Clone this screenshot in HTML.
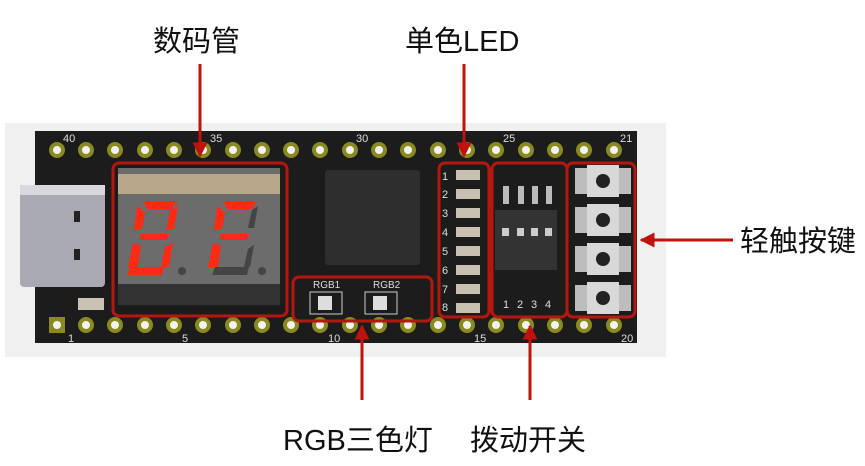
<!DOCTYPE html>
<html><head><meta charset="utf-8"><style>
body{margin:0;width:865px;height:466px;background:#fff;overflow:hidden}
svg{display:block}
.l{font-family:"Liberation Sans","Noto Sans CJK SC",sans-serif;font-size:29px;fill:#111}
.n{font-family:"Liberation Sans",sans-serif;font-size:11px;fill:#ddd}
</style></head><body>
<svg width="865" height="466" viewBox="0 0 865 466">
<defs>
<marker id="a" viewBox="0 0 10 10" refX="9" refY="5" markerWidth="5" markerHeight="5" orient="auto"><path d="M0,0L10,5L0,10z" fill="#c0120c"/></marker>
</defs>
<rect x="5" y="123" width="661" height="234" fill="#f0f0f0"/>
<rect x="35" y="131" width="602" height="212" fill="#1c1c1c"/>
<g fill="#f2f2f2" stroke="#8a8a20" stroke-width="4">
<circle cx="57" cy="150" r="6"/><circle cx="86" cy="150" r="6"/><circle cx="115" cy="150" r="6"/><circle cx="145" cy="150" r="6"/><circle cx="174" cy="150" r="6"/><circle cx="203" cy="150" r="6"/><circle cx="233" cy="150" r="6"/><circle cx="262" cy="150" r="6"/><circle cx="291" cy="150" r="6"/><circle cx="320" cy="150" r="6"/><circle cx="350" cy="150" r="6"/><circle cx="379" cy="150" r="6"/><circle cx="408" cy="150" r="6"/><circle cx="438" cy="150" r="6"/><circle cx="467" cy="150" r="6"/><circle cx="496" cy="150" r="6"/><circle cx="526" cy="150" r="6"/><circle cx="555" cy="150" r="6"/><circle cx="584" cy="150" r="6"/><circle cx="614" cy="150" r="6"/>
<circle cx="86" cy="325" r="6"/><circle cx="115" cy="325" r="6"/><circle cx="145" cy="325" r="6"/><circle cx="174" cy="325" r="6"/><circle cx="203" cy="325" r="6"/><circle cx="233" cy="325" r="6"/><circle cx="262" cy="325" r="6"/><circle cx="291" cy="325" r="6"/><circle cx="320" cy="325" r="6"/><circle cx="350" cy="325" r="6"/><circle cx="379" cy="325" r="6"/><circle cx="408" cy="325" r="6"/><circle cx="438" cy="325" r="6"/><circle cx="467" cy="325" r="6"/><circle cx="496" cy="325" r="6"/><circle cx="526" cy="325" r="6"/><circle cx="555" cy="325" r="6"/><circle cx="584" cy="325" r="6"/><circle cx="614" cy="325" r="6"/>
</g>
<rect x="49" y="317" width="16" height="16" fill="#8a8a20"/><circle cx="57" cy="325" r="4" fill="#f2f2f2"/>
<g class="n"><text x="63" y="142">40</text><text x="210" y="142">35</text><text x="356" y="142">30</text><text x="503" y="142">25</text><text x="620" y="142">21</text>
<text x="68" y="342">1</text><text x="182" y="342">5</text><text x="328" y="342">10</text><text x="474" y="342">15</text><text x="621" y="342">20</text></g>
<rect x="20" y="185" width="85" height="102" rx="4" fill="#a8a9b2"/>
<rect x="20" y="185" width="85" height="10" fill="#d8d9de"/>
<rect x="74" y="211" width="6" height="11" fill="#222"/><rect x="74" y="249" width="6" height="11" fill="#222"/>
<rect x="78" y="298" width="26" height="12" fill="#c9c2b4"/>
<rect x="118" y="168" width="162" height="137" fill="#6c6c6c"/>
<rect x="118" y="174" width="162" height="20" fill="#b8a889"/>
<rect x="118" y="284" width="162" height="21" fill="#333"/>
<g fill="#ff2a14">
<path d="M143 201h34l-5 8h-25z"/><path d="M137 206l8 6-3 18h-8z"/><path d="M178 205l-4 25h-8l4-19z"/><path d="M141 234h29l-4 6h-27z"/><path d="M133 243l8 3-3 21h-10z"/><path d="M173 243l-4 24h-8l4-20z"/><path d="M130 267h34l-2 8h-35z"/>
<path d="M223 201h34l-5 8h-25z"/><path d="M217 206l8 6-3 18h-8z"/><path d="M221 234h29l-4 6h-27z"/><path d="M213 243l8 3-3 21h-10z"/>
</g>
<g fill="#444"><circle cx="182" cy="271" r="4"/><circle cx="262" cy="271" r="4"/><path d="M258 206l-4 22h-6l4-18z"/><path d="M254 245l-4 22h-6l4-18z"/><path d="M215 267h34l-2 8h-35z"/></g>
<rect x="325" y="170" width="95" height="95" rx="3" fill="#2e2e2e"/>
<rect x="310" y="292" width="32" height="22" fill="none" stroke="#ccc"/><rect x="318" y="296" width="14" height="14" fill="#ddd"/>
<rect x="365" y="292" width="32" height="22" fill="none" stroke="#ccc"/><rect x="373" y="296" width="14" height="14" fill="#ddd"/>
<text class="n" x="313" y="288" style="font-size:10px">RGB1</text><text class="n" x="373" y="288" style="font-size:10px">RGB2</text>
<g fill="#c8c0b0"><rect x="456" y="170" width="24" height="10"/><rect x="456" y="189" width="24" height="10"/><rect x="456" y="208" width="24" height="10"/><rect x="456" y="227" width="24" height="10"/><rect x="456" y="246" width="24" height="10"/><rect x="456" y="265" width="24" height="10"/><rect x="456" y="284" width="24" height="10"/><rect x="456" y="303" width="24" height="10"/></g>
<g class="n"><text x="442" y="180">1</text><text x="442" y="198">2</text><text x="442" y="217">3</text><text x="442" y="236">4</text><text x="442" y="255">5</text><text x="442" y="274">6</text><text x="442" y="293">7</text><text x="442" y="311">8</text></g>
<g fill="#bbb"><rect x="503" y="186" width="6" height="18"/><rect x="518" y="186" width="6" height="18"/><rect x="532" y="186" width="6" height="18"/><rect x="546" y="186" width="6" height="18"/></g>
<rect x="495" y="210" width="62" height="60" fill="#333"/>
<g fill="#ccc"><rect x="502" y="228" width="7" height="8"/><rect x="517" y="228" width="7" height="8"/><rect x="531" y="228" width="7" height="8"/><rect x="545" y="228" width="7" height="8"/></g>
<g class="n"><text x="503" y="308">1</text><text x="517" y="308">2</text><text x="531" y="308">3</text><text x="545" y="308">4</text></g>
<g fill="#bdbdbd"><rect x="575" y="168" width="56" height="26"/><rect x="575" y="207" width="56" height="26"/><rect x="575" y="246" width="56" height="26"/><rect x="575" y="285" width="56" height="26"/></g>
<g fill="#d8d8d8"><rect x="587" y="165" width="32" height="32"/><rect x="587" y="204" width="32" height="32"/><rect x="587" y="243" width="32" height="32"/><rect x="587" y="282" width="32" height="32"/></g>
<g fill="#222"><circle cx="603" cy="181" r="7"/><circle cx="603" cy="220" r="7"/><circle cx="603" cy="259" r="7"/><circle cx="603" cy="298" r="7"/></g>
<g fill="none" stroke="#b5170f" stroke-width="3">
<rect x="113" y="163" width="174" height="153" rx="6"/>
<rect x="293" y="277" width="139" height="44" rx="6"/>
<rect x="439" y="163" width="50" height="154" rx="6"/>
<rect x="492" y="163" width="75" height="154" rx="6"/>
<rect x="567" y="163" width="68" height="154" rx="6"/>
</g>
<g stroke="#c0120c" stroke-width="3" marker-end="url(#a)">
<line x1="200" y1="64" x2="200" y2="156"/>
<line x1="464" y1="64" x2="464" y2="156"/>
<line x1="362" y1="400" x2="362" y2="326"/>
<line x1="530" y1="400" x2="530" y2="326"/>
<line x1="733" y1="240" x2="641" y2="240"/>
</g>
<text class="l" x="153" y="51">数码管</text>
<text class="l" x="405" y="51">单色LED</text>
<text class="l" x="283" y="450">RGB三色灯</text>
<text class="l" x="470" y="450">拨动开关</text>
<text class="l" x="740" y="251">轻触按键</text>
</svg>
</body></html>
